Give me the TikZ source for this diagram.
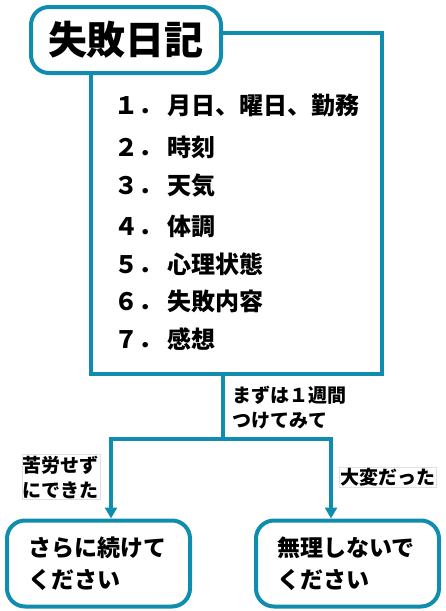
\documentclass[tikz,border=0pt]{standalone}
\usepackage{fontspec}
\setmainfont{Noto Sans CJK JP}
\usetikzlibrary{arrows.meta}
\definecolor{diaryblue}{RGB}{16,140,175}
\tikzset{
  frame/.style={draw=diaryblue, line width=4pt},
  roundbox/.style={frame, rounded corners=18pt, fill=white},
  item/.style={anchor=west, inner sep=0pt, font=\fontsize{24}{28}\selectfont\bfseries},
  note/.style={align=left, inner sep=1pt, font=\fontsize{19}{25}\selectfont\bfseries},
  notebox/.style={note, fill=white, draw=black!12, line width=0.6pt},
  answer/.style={roundbox, minimum width=183pt, minimum height=86pt, text width=141pt, inner xsep=21pt, align=left, font=\fontsize{23}{32}\selectfont\bfseries},
  flow/.style={diaryblue, line width=4pt},
  flowarrow/.style={flow, -{Triangle[width=12pt,length=11pt]}}
}
\newcommand{\nr}[1]{#1\hspace{5pt}}
\begin{document}
\begin{tikzpicture}[x=1pt, y=-1pt]
  \useasboundingbox (0,0) rectangle (446,611);

  \node[frame, minimum width=291pt, minimum height=341pt] (diary) at (236.5,203.5) {};
  \node[roundbox, minimum width=190pt, minimum height=66pt, font=\fontsize{39}{40}\selectfont\bfseries] (title) at (126,40) {失敗日記};

  \node[item] (i1) at (114,105) {\nr{１．}月日、曜日、勤務};
  \node[item] (i2) at (114,147) {\nr{２．}時刻};
  \node[item] (i3) at (114,186) {\nr{３．}天気};
  \node[item] (i4) at (114,226) {\nr{４．}体調};
  \node[item] (i5) at (114,264) {\nr{５．}心理状態};
  \node[item] (i6) at (114,301) {\nr{６．}失敗内容};
  \node[item] (i7) at (114,339) {\nr{７．}感想};

  \node[answer] (easy) at (98.5,563.5) {さらに続けて\\ください};
  \node[answer] (hard) at (347.5,563.5) {無理しないで\\ください};

  \coordinate (split) at (223,439);
  \coordinate (jl) at (111,439);
  \coordinate (jr) at (331,439);

  \draw[flow] (diary.south -| split) -- (split);
  \draw[flowarrow] (split) -| (jl |- easy.north);
  \draw[flowarrow] (split) -| (jr |- hard.north);

  \node[note, anchor=west] (weekly) at (231,407.5) {まずは１週間\\つけてみて};
  \node[notebox] (easynote) at (61,477) {苦労せず\\にできた};
  \node[notebox] (hardnote) at (387.5,477) {大変だった};
\end{tikzpicture}
\end{document}
